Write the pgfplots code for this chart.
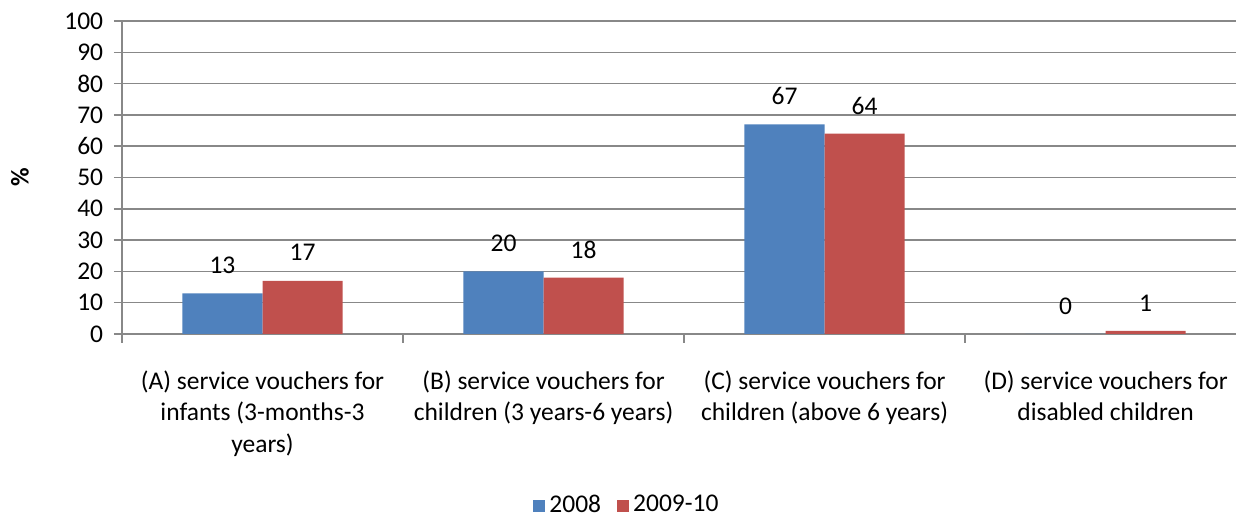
\documentclass[border=0pt]{standalone}
\usepackage{fontspec}
\setmainfont{Carlito}
\usepackage{pgfplots}
\pgfplotsset{compat=1.18}

\definecolor{barblue}{HTML}{4F81BD}
\definecolor{barred}{HTML}{C0504D}
\definecolor{gridgray}{HTML}{888888}

\begin{document}
\fontsize{12.75}{15.6}\selectfont
\begin{tikzpicture}
\useasboundingbox (0,0) rectangle (618pt,258.5pt);
\begin{axis}[
  at={(61pt,91.5pt)}, anchor=south west,
  scale only axis,
  width=557pt, height=156.5pt,
  xmin=0, xmax=3.964,
  ymin=0, ymax=100,
  ytick={0,10,...,100},
  xtick={0.5,1.5,2.5,3.5},
  minor xtick={0,1,2,3},
  xticklabels={{(A) service vouchers for\\infants (3-months-3\\years)},
               {(B) service vouchers for\\children (3 years-6 years)},
               {(C) service vouchers for\\children (above 6 years)},
               {(D) service vouchers for\\disabled children}},
  xticklabel style={align=center, anchor=north, inner sep=0pt, yshift=-14pt,
                    font=\fontsize{12.75}{15.8}\selectfont},
  yticklabel style={font=\fontsize{12.75}{15.6}\selectfont, xshift=-1pt},
  /pgf/number format/assume math mode=true,
  axis x line*=bottom, axis y line*=left,
  axis line style={gridgray, line width=0.75pt, -},
  tick align=outside,
  major x tick style={draw=none},
  minor x tick style={gridgray, line width=0.75pt},
  minor tick length=4.5pt,
  major y tick style={gridgray, line width=0.75pt},
  major tick length=4pt,
  ymajorgrids,
  grid style={gridgray, line width=0.75pt},
  ylabel={\bfseries\%},
  ylabel style={at={(axis description cs:-0.0916,0.5)}, anchor=center,
                font=\fontsize{12.75}{15.6}\selectfont\bfseries},
  ybar=0pt, bar width=0.285,
  nodes near coords,
  every node near coord/.append style={anchor=center, yshift=14pt, black,
                font=\fontsize{12.75}{15.6}\selectfont},
  legend columns=2,
  legend style={at={(0.4542,-0.548)}, anchor=center, draw=none,
                font=\fontsize{12.75}{15.6}\selectfont, inner sep=1pt,
                /tikz/every even column/.append style={column sep=6pt}},
  legend image code/.code={\fill[#1] (0pt,-3pt) rectangle (6pt,3pt);},
]
\addplot[fill=barblue, draw=none] coordinates {(0.5,13) (1.5,20) (2.5,67) (3.5,0)};
\addplot[fill=barred, draw=none] coordinates {(0.5,17) (1.5,18) (2.5,64) (3.5,1)};
\legend{2008, 2009-10}
\end{axis}
\end{tikzpicture}
\end{document}
